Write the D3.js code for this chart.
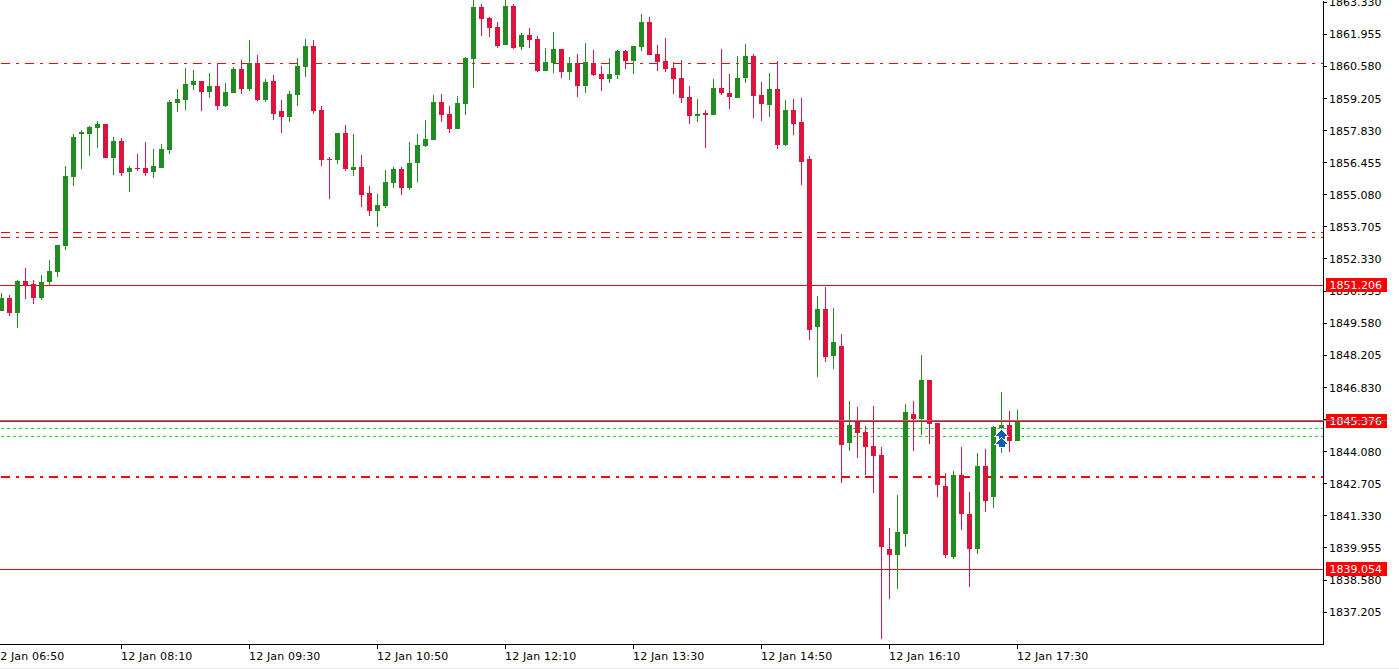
<!DOCTYPE html>
<html>
<head>
<meta charset="utf-8">
<title>XAUUSD M5</title>
<script src="https://cdnjs.cloudflare.com/ajax/libs/d3/7.8.5/d3.min.js"></script>
<style>
  html, body { margin: 0; padding: 0; background: #fff; overflow: hidden; }
  svg { display: block; }
  text { font-family: "DejaVu Sans", sans-serif; font-size: 11px; fill: #000; }
</style>
</head>
<body>
<svg id="chart" width="1399" height="669"></svg>
<script>
// ─── Data ────────────────────────────────────────────────────────────────────

const opens = [
  1850.08,1850.64,1849.99,1851.37,1851.24,1850.64,1851.32,1851.75,1852.86,1855.82,
  1857.66,1857.66,1857.92,1858.09,1856.63,1857.36,1856.03,1856.21,1856.21,1856.03,
  1856.21,1856.98,1858.99,1859.12,1859.76,1859.93,1859.45,1859.71,1858.86,1859.41,
  1860.44,1859.58,1860.70,1859.12,1859.93,1858.65,1858.39,1859.33,1860.53,1861.43,
  1858.69,1856.59,1856.55,1857.70,1856.12,1856.25,1855.13,1854.37,1854.58,1855.56,
  1856.16,1855.35,1856.42,1857.14,1857.40,1859.03,1858.52,1857.87,1858.95,1860.87,
  1863.10,1862.63,1862.24,1861.47,1863.14,1861.39,1861.90,1861.73,1860.36,1860.70,
  1861.30,1860.32,1860.70,1859.71,1860.70,1860.23,1860.01,1860.19,1861.21,1860.79,
  1861.39,1862.46,1861.09,1860.79,1860.49,1860.06,1859.24,1858.43,1858.56,1858.47,
  1859.63,1859.41,1859.20,1860.06,1861.00,1859.33,1858.90,1859.58,1857.19,1858.69,
  1858.18,1856.59,1849.40,1850.16,1848.15,1848.58,1844.43,1845.37,1844.89,1844.30,
  1843.92,1839.88,1839.64,1840.53,1845.67,1845.45,1847.13,1845.28,1842.58,1839.55,
  1843.06,1841.39,1839.88,1843.44,1842.12,1845.06,1845.20,1844.52
];
const highs = [
  1850.85,1850.77,1851.41,1851.93,1851.41,1851.63,1852.27,1852.91,1856.29,1857.66,
  1857.83,1858.00,1858.22,1858.09,1857.53,1857.49,1856.29,1856.81,1857.32,1857.02,
  1857.23,1859.12,1859.58,1860.49,1860.40,1859.93,1860.27,1860.70,1859.84,1860.53,
  1860.83,1861.69,1861.05,1860.01,1860.19,1859.12,1859.50,1860.91,1861.73,1861.69,
  1858.86,1856.68,1857.70,1858.05,1857.66,1856.77,1855.43,1855.09,1856.12,1856.25,
  1856.25,1857.32,1857.66,1858.26,1859.33,1859.37,1858.86,1859.29,1860.96,1863.60,
  1863.23,1862.67,1862.46,1863.53,1863.23,1861.98,1862.20,1861.85,1861.34,1862.03,
  1861.30,1860.96,1861.09,1861.56,1861.26,1860.57,1860.91,1861.26,1861.26,1861.43,
  1862.80,1862.67,1861.47,1861.77,1860.74,1860.83,1859.71,1859.16,1858.69,1860.01,
  1861.30,1860.23,1861.00,1861.51,1861.09,1859.89,1860.27,1860.79,1859.12,1859.16,
  1859.20,1856.72,1850.72,1851.11,1850.21,1849.10,1846.23,1845.97,1845.15,1846.01,
  1844.26,1840.79,1842.21,1846.10,1846.23,1848.20,1847.13,1845.28,1843.14,1843.23,
  1844.26,1842.33,1844.00,1844.17,1845.15,1846.61,1845.80,1845.84
];
const lows = [
  1850.08,1849.86,1849.36,1850.59,1850.38,1850.55,1851.20,1851.54,1852.69,1855.43,
  1856.16,1856.72,1857.06,1856.63,1855.91,1855.86,1855.17,1856.08,1855.86,1855.78,
  1856.21,1856.81,1858.60,1858.69,1859.54,1858.65,1859.20,1858.69,1858.82,1859.41,
  1859.37,1859.50,1859.07,1859.03,1858.26,1857.70,1858.18,1858.86,1860.10,1858.52,
  1856.29,1854.87,1856.38,1856.08,1855.86,1854.54,1854.15,1853.68,1854.49,1855.35,
  1855.05,1855.26,1855.60,1857.10,1857.40,1858.18,1857.70,1857.87,1858.47,1859.63,
  1861.85,1861.81,1861.34,1861.47,1861.30,1861.26,1861.34,1860.32,1860.36,1860.27,
  1860.06,1859.97,1859.24,1859.41,1860.14,1859.50,1859.84,1860.01,1860.44,1860.23,
  1861.21,1861.05,1860.36,1860.32,1859.37,1858.99,1858.09,1858.18,1857.06,1858.47,
  1859.33,1858.73,1859.20,1859.84,1858.35,1858.22,1858.39,1857.02,1857.14,1857.62,
  1855.48,1848.84,1847.25,1847.89,1847.59,1842.71,1844.09,1843.78,1843.06,1842.29,
  1836.04,1837.74,1838.17,1839.97,1844.09,1844.77,1844.39,1842.12,1839.51,1839.46,
  1840.70,1838.26,1839.68,1841.47,1841.65,1844.00,1844.04,1844.52
];
const closes = [
  1850.64,1849.99,1851.37,1851.15,1850.64,1851.32,1851.80,1852.91,1855.86,1857.53,
  1857.74,1857.96,1858.09,1856.63,1857.36,1855.99,1856.21,1856.16,1855.99,1856.29,
  1857.02,1859.03,1859.16,1859.80,1859.93,1859.45,1859.71,1858.86,1859.45,1860.44,
  1859.58,1860.70,1859.12,1859.89,1858.52,1858.39,1859.37,1860.57,1861.43,1858.65,
  1856.55,1856.55,1857.70,1856.16,1856.25,1855.05,1854.37,1854.62,1855.60,1856.16,
  1855.35,1856.42,1857.19,1857.45,1859.03,1858.47,1857.87,1858.99,1860.91,1863.10,
  1862.58,1862.20,1861.43,1863.14,1861.34,1861.90,1861.69,1860.36,1860.74,1861.30,
  1860.32,1860.70,1859.71,1860.74,1860.19,1860.01,1860.23,1861.21,1860.79,1861.43,
  1862.46,1861.05,1860.74,1860.44,1860.01,1859.20,1858.43,1858.52,1858.47,1859.63,
  1859.41,1859.24,1860.06,1861.00,1859.29,1858.95,1859.58,1857.19,1858.69,1858.09,
  1856.46,1849.27,1850.16,1848.11,1848.75,1844.35,1845.20,1844.85,1844.26,1843.87,
  1839.97,1839.64,1840.61,1845.75,1845.45,1847.13,1845.24,1842.63,1839.64,1843.06,
  1841.39,1839.88,1843.44,1841.95,1845.11,1845.20,1844.52,1845.41
];

const priceTicks = [
  1863.330, 1861.955, 1860.580, 1859.205, 1857.830, 1856.455, 1855.080,
  1853.705, 1852.330, 1850.955, 1849.580, 1848.205, 1846.830, 1845.455,
  1844.080, 1842.705, 1841.330, 1839.955, 1838.580, 1837.205
];
const timeTickBars = [-1, 15, 31, 47, 63, 79, 95, 111, 127];
const timeTickLabels = [
  '12 Jan 06:50', '12 Jan 08:10', '12 Jan 09:30', '12 Jan 10:50', '12 Jan 12:10',
  '12 Jan 13:30', '12 Jan 14:50', '12 Jan 16:10', '12 Jan 17:30'
];

// Horizontal levels
const thinDashLevels  = [1860.70, 1853.46, 1853.25];
const thickDashLevels = [1842.97];
const greenDashLevels = [1845.07, 1844.73];
const solidLevels     = [1851.206, 1845.376, 1839.054];
const greyLevels      = [1845.41];
const pricedLabels    = [1851.206, 1845.376, 1839.054];

// Up-arrow markers
const arrowBar    = 125;
const arrowLevels = [1844.98, 1844.64];

// ─── Config ──────────────────────────────────────────────────────────────────

const CONFIG = {
  width: 1399,
  height: 669,
  plotRight: 1323,
  plotBottom: 644,
  priceTop: 1863.398,
  priceBottom: 1835.822,
  barStep: 8,
  bodyWidth: 5,
  upColor: '#228B22',
  downColor: '#DC143C',
  levelColor: '#FF0000',
  greenColor: '#32CD32',
  greyColor: '#708090',
  arrowColor: '#0A5FB4',
  dashDot: '9 6 3 6',
};

// ─── Setup ───────────────────────────────────────────────────────────────────

const svg = d3.select('#chart');

const y = d3.scaleLinear()
  .domain([CONFIG.priceTop, CONFIG.priceBottom])
  .range([0, CONFIG.plotBottom]);

// bar 0 sits at 1.5px, one bar every 8px
const x = d3.scaleLinear()
  .domain([-1.5 / CONFIG.barStep, (CONFIG.plotRight - 1.5) / CONFIG.barStep])
  .range([0, CONFIG.plotRight]);

const row = p => Math.round(y(p));

const defs = svg.append('defs');
defs.append('clipPath').attr('id', 'plot-clip')
  .append('rect')
  .attr('width', CONFIG.plotRight)
  .attr('height', CONFIG.plotBottom);

svg.append('rect')
  .attr('x', 0).attr('y', 668)
  .attr('width', CONFIG.width).attr('height', 1)
  .attr('fill', '#E6E6E6');

const plot = svg.append('g').attr('clip-path', 'url(#plot-clip)');

// ─── Levels behind the candles ───────────────────────────────────────────────

function drawLevels(parent, levels, opts) {
  parent.selectAll(null)
    .data(levels)
    .enter().append('line')
    .attr('x1', opts.dash ? 1 : 0)
    .attr('x2', CONFIG.plotRight)
    .attr('y1', d => row(d) + (opts.width % 2 ? 0.5 : 0))
    .attr('y2', d => row(d) + (opts.width % 2 ? 0.5 : 0))
    .attr('stroke', opts.color)
    .attr('stroke-width', opts.width)
    .attr('stroke-dasharray', opts.dash || null)
    .attr('shape-rendering', 'crispEdges');
}

drawLevels(plot, thinDashLevels,  { color: CONFIG.levelColor, width: 1, dash: CONFIG.dashDot });
drawLevels(plot, thickDashLevels, { color: CONFIG.levelColor, width: 2, dash: CONFIG.dashDot });
drawLevels(plot, greenDashLevels, { color: CONFIG.greenColor, width: 1, dash: '3 3' });
drawLevels(plot, [solidLevels[0], solidLevels[2]], { color: CONFIG.levelColor, width: 1 });

// ─── Candles ─────────────────────────────────────────────────────────────────

const bars = d3.range(opens.length);
const barColor = i => (closes[i] >= opens[i] ? CONFIG.upColor : CONFIG.downColor);

plot.append('g').selectAll('line')
  .data(bars)
  .enter().append('line')
  .attr('x1', i => x(i))
  .attr('x2', i => x(i))
  .attr('y1', i => row(highs[i]))
  .attr('y2', i => row(lows[i]))
  .attr('stroke', barColor)
  .attr('stroke-width', 1)
  .attr('shape-rendering', 'crispEdges');

plot.append('g').selectAll('rect')
  .data(bars)
  .enter().append('rect')
  .attr('x', i => x(i) - CONFIG.bodyWidth / 2)
  .attr('width', CONFIG.bodyWidth)
  .attr('y', i => row(Math.max(opens[i], closes[i])))
  .attr('height', i => Math.max(1, row(Math.min(opens[i], closes[i])) - row(Math.max(opens[i], closes[i]))))
  .attr('fill', barColor)
  .attr('shape-rendering', 'crispEdges');

// ─── Levels over the candles ─────────────────────────────────────────────────

drawLevels(plot, greyLevels, { color: CONFIG.greyColor, width: 1 });
drawLevels(plot, [solidLevels[1]], { color: CONFIG.levelColor, width: 1 });

// ─── Arrows ──────────────────────────────────────────────────────────────────

const arrowPath = 'M0,0 L6,6 L3,6 L3,9 L-3,9 L-3,6 L-6,6 Z';

plot.append('g').selectAll('path')
  .data(arrowLevels)
  .enter().append('path')
  .attr('d', arrowPath)
  .attr('transform', d => `translate(${x(arrowBar)},${row(d)})`)
  .attr('fill', CONFIG.arrowColor)
  .attr('stroke', '#fff')
  .attr('stroke-width', 1.5)
  .attr('paint-order', 'stroke')
  .attr('shape-rendering', 'crispEdges');

// ─── Axes ────────────────────────────────────────────────────────────────────

const priceAxis = d3.axisRight(y)
  .tickValues(priceTicks)
  .tickFormat(d3.format('.3f'))
  .tickSize(4)
  .tickSizeOuter(0)
  .tickPadding(2)
  .offset(0.5);

svg.append('g')
  .attr('transform', `translate(${CONFIG.plotRight},0)`)
  .call(priceAxis)
  .call(g => g.selectAll('path, line').attr('stroke', '#000').attr('shape-rendering', 'crispEdges'))
  .call(g => g.selectAll('text').attr('dy', '.38em'));

const timeAxis = d3.axisBottom(x)
  .tickValues(timeTickBars)
  .tickFormat((d, i) => timeTickLabels[i])
  .tickSize(4)
  .tickSizeOuter(0)
  .tickPadding(4)
  .offset(0);

svg.append('g')
  .attr('transform', `translate(0,${CONFIG.plotBottom + 0.5})`)
  .call(timeAxis)
  .call(g => g.selectAll('path, line').attr('stroke', '#000').attr('shape-rendering', 'crispEdges'))
  .call(g => g.selectAll('text')
    .attr('text-anchor', 'start')
    .attr('x', -0.5)
    .style('letter-spacing', '0.15px'));

// ─── Price labels ────────────────────────────────────────────────────────────

const labels = svg.append('g').selectAll('g')
  .data(pricedLabels)
  .enter().append('g')
  .attr('transform', d => `translate(1326,${row(d)})`);

labels.append('rect')
  .attr('y', -7)
  .attr('width', 61)
  .attr('height', 14)
  .attr('fill', CONFIG.levelColor);

labels.append('text')
  .attr('x', 3.5)
  .attr('dy', '.38em')
  .style('fill', '#fff')
  .text(d => d.toFixed(3));

svg.append('line')
  .attr('x1', CONFIG.plotRight)
  .attr('x2', 1387)
  .attr('y1', row(greyLevels[0]) + 0.5)
  .attr('y2', row(greyLevels[0]) + 0.5)
  .attr('stroke', CONFIG.greyColor)
  .attr('shape-rendering', 'crispEdges');
</script>
</body>
</html>
